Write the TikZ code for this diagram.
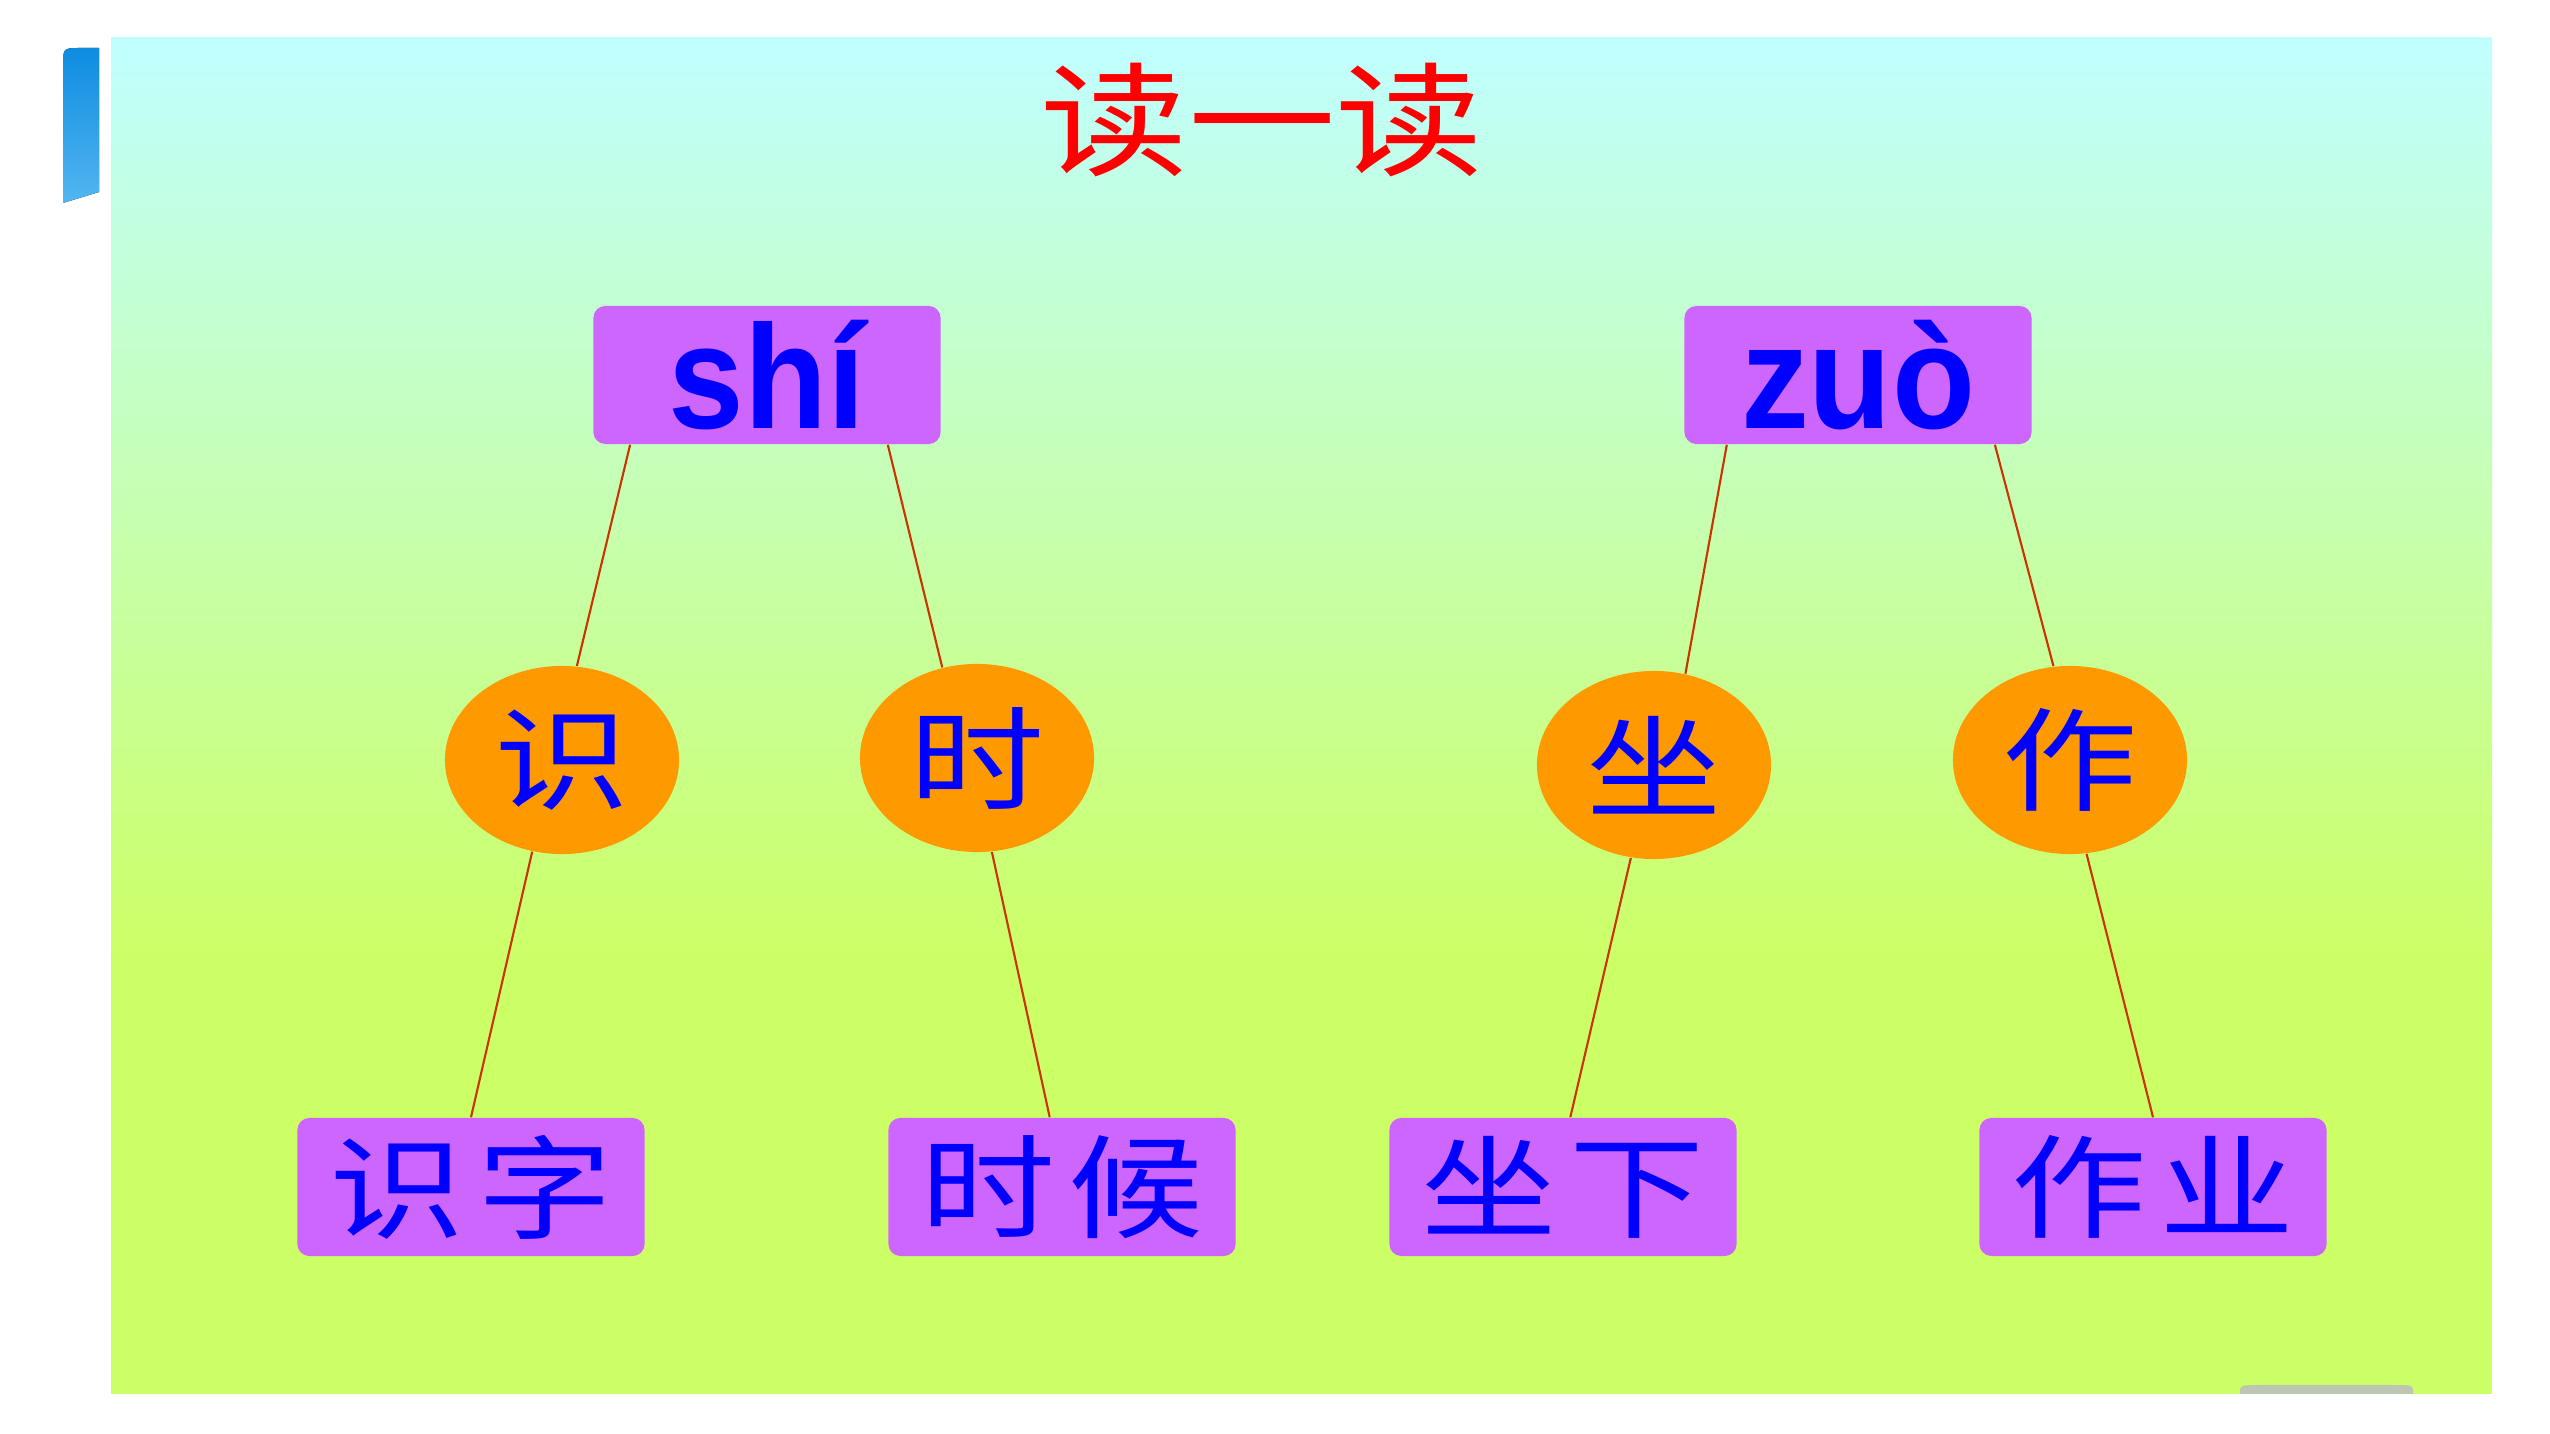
\documentclass[tikz,border=0pt]{standalone}
\usepackage{fontspec}
\usetikzlibrary{shapes.geometric}
\newfontfamily\cjk{Noto Sans CJK SC}
\newfontfamily\pyfont{Liberation Sans}
\definecolor{boxpurple}{RGB}{204,102,255}
\definecolor{ballorange}{RGB}{255,153,0}
\definecolor{linkred}{RGB}{204,51,0}
\definecolor{skytop}{RGB}{192,255,255}
\definecolor{skymid}{RGB}{200,255,192}
\definecolor{skybot}{RGB}{204,255,102}
\definecolor{tabtop}{RGB}{14,140,224}
\definecolor{tabbot}{RGB}{82,182,240}
\definecolor{knobgray}{RGB}{188,198,176}
\newcommand{\hanzi}[2][32pt]{\scalebox{1.2}[1]{\cjk\fontsize{#1}{#1}\selectfont #2}}
\newcommand{\pinyin}[1]{\scalebox{0.92}[1]{\pyfont\bfseries\fontsize{42pt}{42pt}\selectfont #1}}
\tikzset{
	pybox/.style={fill=boxpurple, rounded corners=0.12cm, minimum width=3.47cm, minimum height=1.38cm, inner sep=0pt, text=blue},
	charball/.style={ellipse, fill=ballorange, minimum width=2.34cm, minimum height=1.88cm, inner sep=0pt, text=blue},
	link/.style={draw=linkred, line width=0.6pt}
}
\begin{document}
\begin{tikzpicture}[x=0.01cm, y=-0.01cm]
	\useasboundingbox (0,0) rectangle (2550,1434);
	\fill[white] (0,0) rectangle (2550,1434);
	\fill[top color=tabtop, bottom color=tabbot] (63,203) -- (63,66) .. controls (63,48) .. (81,48) -- (99,48) -- (99,192) -- cycle;
	\fill[skybot] (111,38) rectangle (2492,1394);
	\fill[top color=skytop, middle color=skymid, bottom color=skybot] (111,38) rectangle (2492,960);
	\fill[knobgray] (2240,1394) -- (2240,1392) .. controls (2240,1385) .. (2262,1385) -- (2391,1385) .. controls (2413,1385) .. (2413,1392) -- (2413,1394) -- cycle;
	\node[text=red] (title) at (1262,120) {\hanzi[35pt]{读一读}};
	\node[pybox] (shi) at (767,375) {\pinyin{shí}};
	\node[pybox] (zuo) at (1858,375) {\pinyin{zuò}};
	\node[charball] (shiA) at (562,760) {\hanzi{识}};
	\node[charball] (shiB) at (977,758) {\hanzi{时}};
	\node[charball] (zuoA) at (1654,765) {\hanzi{坐}};
	\node[charball] (zuoB) at (2070,760) {\hanzi{作}};
	\node[pybox] (shizi) at (471,1187) {\hanzi{识\kern3pt字}};
	\node[pybox] (shihou) at (1062,1187) {\hanzi{时\kern3pt候}};
	\node[pybox] (zuoxia) at (1563,1187) {\hanzi{坐\kern3pt下}};
	\node[pybox] (zuoye) at (2153,1187) {\hanzi{作\kern3pt业}};
	\draw[link] (shi.207) -- (shiA.81);
	\draw[link] (shi.330) -- (shiB.111);
	\draw[link] (shiA.252) -- (shizi.north);
	\draw[link] (shiB.279) -- (shihou.100);
	\draw[link] (zuo.208) -- (zuoA.71);
	\draw[link] (zuo.333) -- (zuoB.100);
	\draw[link] (zuoA.256) -- (zuoxia.84);
	\draw[link] (zuoB.280) -- (zuoye.north);
\end{tikzpicture}
\end{document}
